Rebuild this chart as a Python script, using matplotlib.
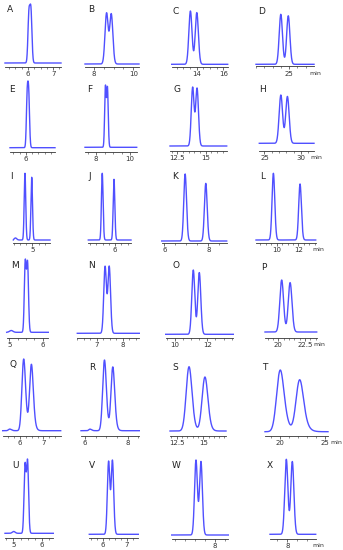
import numpy as np
import matplotlib
matplotlib.use("Agg")
import matplotlib.pyplot as plt

# chromatogram peak table, one entry per panel (retention time in min, relative height, width sigma, tailing)
labels = list("ABCDEFGHIJKLMNOPQRSTUVWX")
t1 = [6.03, 8.62, 13.5, 23.95, 6.04, 8.54, 13.82, 27.2, 4.7, 5.48, 6.93, 9.66,
      5.47, 7.31, 11.11, 20.27, 6.12, 6.87, 13.55, 19.8, 5.4, 6.23, 7.03, 7.93]
t2 = [6.11, 8.86, 13.98, 24.85, 6.1, 8.66, 14.21, 28.1, 4.97, 5.95, 7.87, 12.12,
      5.54, 7.47, 11.48, 21.06, 6.45, 7.26, 15.05, 21.95, 5.49, 6.39, 7.28, 8.23]
h1 = [97, 100, 100, 100, 100, 100, 100, 100, 100, 100, 100, 100,
      100, 100, 100, 100, 100, 100, 100, 100, 96, 99, 100, 100]
h2 = [100, 98, 97, 97, 97, 97, 98, 97, 94, 91, 86, 84,
      97, 100, 96, 95, 92, 90, 84, 84, 100, 100, 98, 97]
sig = [0.038, 0.078, 0.115, 0.19, 0.032, 0.044, 0.12, 0.23, 0.03, 0.032, 0.06, 0.12,
       0.027, 0.05, 0.09, 0.17, 0.07, 0.078, 0.25, 0.36, 0.034, 0.05, 0.07, 0.076]
tail = [0.01, 0.02, 0.03, 0.05, 0.01, 0.012, 0.035, 0.06, 0.008, 0.01, 0.02, 0.04,
        0.008, 0.012, 0.025, 0.05, 0.05, 0.05, 0.14, 0.3, 0.01, 0.015, 0.02, 0.02]
# small impurity bumps (time, relative height)
bump_t = {"I": 4.32, "M": 5.05, "Q": 5.53, "R": 6.2, "U": 5.0}
bump_h = {"I": 3, "M": 2.5, "Q": 2.5, "R": 2.5, "U": 2.5}

xlims = [(5.09, 7.31), (7.54, 10.29), (12.12, 16.33), (21.0, 28.0),
         (5.36, 7.16), (7.35, 10.39), (11.85, 16.86), (24.3, 31.8),
         (4.24, 5.71), (4.93, 6.64), (5.88, 8.84), (8.09, 13.6),
         (4.92, 6.17), (6.25, 8.64), (9.43, 13.6), (18.75, 23.6),
         (5.26, 7.74), (5.81, 8.54), (11.87, 17.15), (18.33, 25.3),
         (4.7, 6.41), (5.44, 7.48), (5.83, 8.67), (7.13, 9.42)]
major = [[6, 7], [8, 10], [14, 16], [25], [6], [8, 10], [12.5, 15], [25, 30],
         [5], [6], [6, 8], [10, 12], [5, 6], [7, 8], [10, 12], [20, 22.5],
         [6, 7], [6, 8], [12.5, 15], [20, 25], [5, 6], [6, 7], [8], [8]]
minor_step = [0.25, 0.5, 0.5, 1, 0.25, 0.5, 0.5, 1, 0.25, 0.25, 0.5, 0.5,
              0.25, 0.25, 0.5, 0.5, 0.25, 0.5, 0.5, 1, 0.25, 0.25, 0.5, 0.5]

# panel boxes in pixels: x left, x right, peak top, baseline, axis line
boxes = [(5, 61, 4, 63, 67), (85, 139, 12.7, 64, 67), (171.7, 227.7, 11, 64.3, 67), (256, 314, 14.3, 64.3, 66.5),
         (10, 55, 81, 147.7, 151.7), (85, 136.7, 85, 147.3, 151.7), (170, 226.7, 87, 146, 151), (259.3, 314, 95, 143.3, 151),
         (13.3, 50, 173.3, 240, 243), (88.3, 131, 173.3, 240, 243), (161.7, 226.7, 174, 241, 243), (256, 315.7, 173.3, 240, 243),
         (6.7, 48.3, 259, 332.3, 338), (77.3, 139.3, 266, 333.3, 338), (165.7, 233.3, 270, 334.3, 338), (265, 316.7, 280, 332, 337.7),
         (2.7, 60.7, 359, 430.7, 436), (81, 139.3, 360, 430.7, 436), (170, 226, 366.7, 431, 436), (265, 328, 370, 431.7, 436),
         (5, 53.3, 459, 533.3, 537.7), (89.3, 138.3, 460, 534.3, 538), (171.7, 228.3, 460, 535, 539.3), (270, 315.7, 459.3, 534.3, 539)]
label_pos = [(7, 10), (88, 10), (172, 11), (258, 11),
             (9, 89), (87, 89), (174, 90), (259, 90),
             (10, 176), (88, 176), (172, 176), (260, 176),
             (11, 265), (88, 265), (172, 265), (261, 267),
             (9, 365), (89, 368), (172, 368), (262, 368),
             (12, 466), (89, 466), (172, 466), (267, 466)]
# "min" unit label under the right end of the last column, offset in points
min_offset = {"D": 1, "H": 2, "L": 2, "P": 2, "T": 6, "X": 2}

W, H = 343, 550
fig = plt.figure(figsize=(W / 100, H / 100), dpi=100)
blue = "#5050ff"

for i, lab in enumerate(labels):
    x0p, x1p, topp, basep, spinep = boxes[i]
    ax = fig.add_axes([x0p / W, 1 - spinep / H, (x1p - x0p) / W, (spinep - topp) / H])
    lo, hi = xlims[i]
    x = np.linspace(lo, hi, 1500)
    y = h1[i] * np.exp(-(x - t1[i]) ** 2 / (2 * sig[i] ** 2)) + \
        h2[i] * np.exp(-(x - t2[i]) ** 2 / (2 * sig[i] ** 2))
    if lab in bump_t:
        y = y + bump_h[lab] * np.exp(-(x - bump_t[lab]) ** 2 / (2 * 0.05 ** 2))
    if tail[i] > 0:
        dx = x[1] - x[0]
        k = np.exp(-np.arange(0, 8 * tail[i], dx) / tail[i])
        k = k / k.sum()
        y = np.convolve(y, k)[:len(x)]
    ymax = y.max()
    kk = (spinep - basep) / (basep - topp)
    ax.plot(x, y, color=blue, lw=1.0, clip_on=False)
    ax.set_xlim(lo, hi)
    ax.set_ylim(-kk * ymax, ymax)
    for s in ["top", "right", "left"]:
        ax.spines[s].set_visible(False)
    ax.spines["bottom"].set_linewidth(0.6)
    ax.spines["bottom"].set_color("#333333")
    ax.set_yticks([])
    ax.set_xticks(major[i])
    ax.set_xticklabels([("%g" % v) for v in major[i]], fontsize=5, color="#333333")
    st = minor_step[i]
    ax.set_xticks(np.arange(np.ceil(lo / st) * st, hi, st), minor=True)
    ax.tick_params(axis="x", which="major", length=2, width=0.5, pad=1, colors="#333333")
    ax.tick_params(axis="x", which="minor", length=1.3, width=0.4, colors="#333333")
    ax.patch.set_visible(False)
    if lab in min_offset:
        ax.annotate("min", xy=(1.0, 0), xycoords="axes fraction", xytext=(min_offset[lab], -3.2),
                    textcoords="offset points", fontsize=4.5, ha="center", va="top",
                    color="#333333")
    lx, ly = label_pos[i]
    fig.text(lx / W, 1 - ly / H, lab, fontsize=6.5, ha="left", va="center", color="#222222")

fig.savefig("out.png", dpi=100)
